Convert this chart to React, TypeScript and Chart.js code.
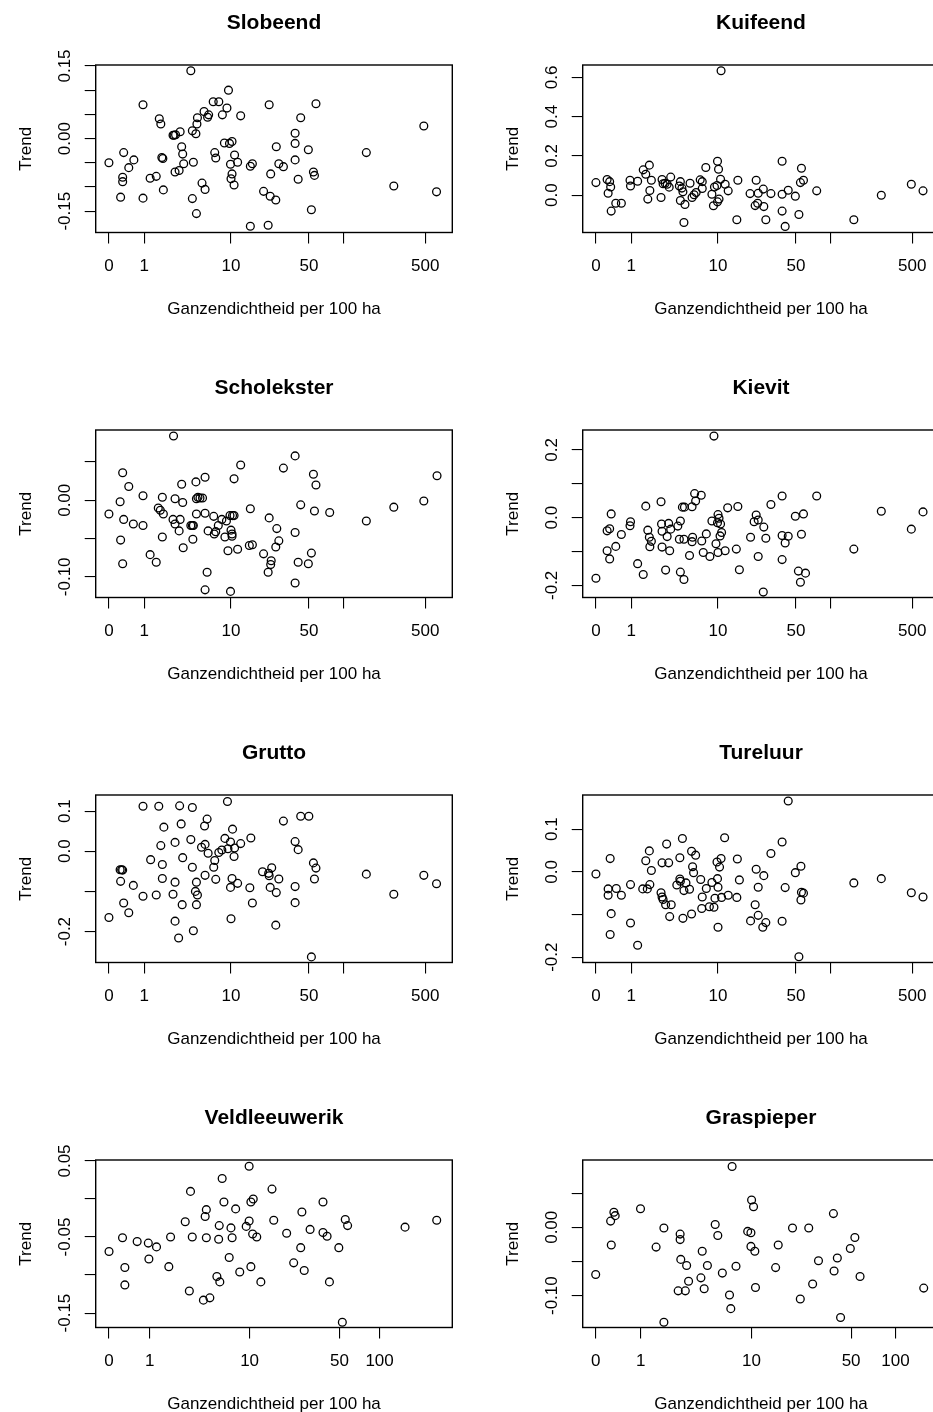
import React, { useEffect, useRef } from "react";
import { Chart, registerables } from "chart.js";

Chart.register(...registerables);

// x = ln(1 + goose density per 100 ha), y = trend
const slobeend: [number, number][] = [[0.00,-0.050],[0.29,-0.029],[0.39,-0.060],[0.49,-0.044],[0.27,-0.080],[0.27,-0.089],[0.23,-0.121],[0.67,0.070],[0.67,-0.123],[0.81,-0.082],[0.93,-0.078],[0.99,0.041],[1.02,0.030],[1.04,-0.039],[1.06,-0.041],[1.07,-0.106],[1.26,0.007],[1.28,0.007],[1.31,0.008],[1.40,0.014],[1.30,-0.069],[1.38,-0.066],[1.43,-0.017],[1.45,-0.032],[1.47,-0.052],[1.61,0.140],[1.64,0.016],[1.71,0.010],[1.73,0.030],[1.74,0.043],[1.66,-0.049],[1.64,-0.124],[1.72,-0.155],[1.83,-0.092],[1.89,-0.105],[1.87,0.056],[1.94,0.044],[1.96,0.049],[2.05,0.076],[2.16,0.076],[2.08,-0.029],[2.10,-0.040],[2.23,0.049],[2.32,0.063],[2.35,0.100],[2.27,-0.009],[2.37,-0.010],[2.42,-0.006],[2.39,-0.053],[2.40,-0.083],[2.42,-0.073],[2.46,-0.096],[2.47,-0.034],[2.53,-0.049],[2.59,0.047],[2.78,-0.057],[2.82,-0.052],[2.78,-0.181],[3.04,-0.109],[3.15,0.070],[3.18,-0.073],[3.17,-0.119],[3.13,-0.179],[3.29,-0.017],[3.34,-0.052],[3.28,-0.127],[3.43,-0.058],[3.66,0.011],[3.66,-0.010],[3.66,-0.044],[3.72,-0.084],[3.77,0.043],[3.92,-0.023],[3.98,-0.147],[4.02,-0.069],[4.04,-0.076],[4.07,0.072],[5.06,-0.029],[5.60,-0.098],[6.19,0.026],[6.44,-0.110]];

const kuifeend: [number, number][] = [[0.00,0.064],[0.22,0.080],[0.24,0.010],[0.27,0.069],[0.29,0.042],[0.30,-0.081],[0.39,-0.041],[0.50,-0.041],[0.67,0.076],[0.68,0.047],[0.82,0.071],[0.93,0.129],[0.98,0.107],[1.05,0.153],[1.06,0.024],[1.02,-0.020],[1.09,0.076],[1.28,-0.012],[1.30,0.080],[1.32,0.058],[1.36,0.061],[1.40,0.056],[1.44,0.041],[1.47,0.092],[1.64,0.047],[1.66,0.069],[1.69,0.036],[1.66,-0.027],[1.71,0.017],[1.73,-0.139],[1.75,-0.047],[1.85,0.061],[1.89,-0.012],[1.93,0.002],[1.97,0.014],[2.05,0.078],[2.09,0.034],[2.09,0.069],[2.16,0.141],[2.28,0.005],[2.31,-0.054],[2.33,0.042],[2.38,0.049],[2.39,0.173],[2.41,0.132],[2.39,-0.034],[2.42,-0.020],[2.45,0.081],[2.46,0.634],[2.54,0.056],[2.60,0.022],[2.77,-0.125],[2.79,0.076],[3.03,0.008],[3.13,-0.053],[3.18,-0.041],[3.19,0.010],[3.15,0.076],[3.29,0.031],[3.30,-0.058],[3.34,-0.125],[3.44,0.008],[3.66,0.173],[3.66,0.005],[3.66,-0.081],[3.72,-0.159],[3.78,0.025],[3.92,-0.005],[3.99,-0.098],[4.02,0.064],[4.04,0.137],[4.08,0.076],[4.34,0.022],[5.07,-0.125],[5.61,0.000],[6.20,0.056],[6.43,0.022]];

const scholekster: [number, number][] = [[0.00,-0.018],[0.22,-0.002],[0.27,0.036],[0.29,-0.025],[0.39,0.018],[0.23,-0.052],[0.27,-0.083],[0.48,-0.031],[0.67,0.006],[0.67,-0.033],[0.81,-0.071],[0.93,-0.081],[0.97,-0.010],[1.01,-0.013],[1.05,0.004],[1.07,-0.018],[1.05,-0.048],[1.26,-0.025],[1.30,0.002],[1.30,-0.031],[1.38,-0.040],[1.40,-0.025],[1.27,0.084],[1.43,0.021],[1.45,-0.003],[1.46,-0.062],[1.61,-0.033],[1.64,-0.033],[1.66,-0.033],[1.65,-0.051],[1.71,0.024],[1.72,0.002],[1.75,0.004],[1.79,0.003],[1.84,0.003],[1.72,-0.018],[1.89,0.030],[1.89,-0.017],[1.93,-0.094],[1.89,-0.117],[1.95,-0.040],[2.06,-0.021],[2.07,-0.044],[2.10,-0.041],[2.15,-0.033],[2.22,-0.025],[2.31,-0.027],[2.28,-0.048],[2.34,-0.066],[2.38,-0.020],[2.40,-0.039],[2.43,-0.020],[2.46,-0.020],[2.42,-0.044],[2.42,-0.047],[2.39,-0.119],[2.46,0.028],[2.53,-0.064],[2.59,0.046],[2.78,-0.011],[2.76,-0.059],[2.82,-0.058],[3.04,-0.070],[3.15,-0.023],[3.19,-0.079],[3.18,-0.084],[3.13,-0.094],[3.30,-0.037],[3.34,-0.053],[3.28,-0.061],[3.43,0.042],[3.66,0.058],[3.66,-0.042],[3.66,-0.108],[3.72,-0.081],[3.77,-0.006],[3.92,-0.083],[3.98,-0.069],[4.02,0.034],[4.07,0.020],[4.04,-0.014],[4.34,-0.016],[5.06,-0.027],[5.60,-0.009],[6.19,-0.001],[6.45,0.032]];

const kievit: [number, number][] = [[0.00,-0.179],[0.22,-0.039],[0.27,-0.033],[0.30,0.011],[0.22,-0.098],[0.27,-0.122],[0.39,-0.085],[0.50,-0.050],[0.68,-0.012],[0.67,-0.024],[0.82,-0.136],[0.93,-0.168],[0.98,0.034],[1.02,-0.037],[1.05,-0.058],[1.09,-0.070],[1.06,-0.086],[1.28,0.047],[1.29,-0.019],[1.30,-0.040],[1.30,-0.087],[1.37,-0.155],[1.40,-0.056],[1.43,-0.017],[1.47,-0.034],[1.45,-0.098],[1.61,-0.025],[1.66,-0.010],[1.64,-0.064],[1.66,-0.161],[1.73,-0.183],[1.70,0.031],[1.74,0.031],[1.73,-0.064],[1.84,-0.112],[1.89,0.032],[1.94,0.071],[1.96,0.049],[1.90,-0.058],[1.89,-0.071],[2.07,0.066],[2.08,-0.069],[2.11,-0.103],[2.17,-0.048],[2.24,-0.115],[2.28,-0.010],[2.36,-0.077],[2.32,0.241],[2.40,0.009],[2.39,-0.015],[2.42,-0.002],[2.45,-0.019],[2.44,-0.054],[2.47,-0.044],[2.40,-0.103],[2.54,-0.098],[2.59,0.029],[2.76,-0.093],[2.79,0.033],[2.82,-0.154],[3.04,-0.058],[3.11,-0.012],[3.15,0.008],[3.19,-0.007],[3.19,-0.115],[3.30,-0.028],[3.34,-0.061],[3.29,-0.220],[3.44,0.039],[3.66,0.064],[3.66,-0.053],[3.72,-0.075],[3.78,-0.055],[3.66,-0.124],[3.92,0.004],[4.08,0.011],[4.04,-0.049],[3.98,-0.158],[4.12,-0.164],[4.02,-0.191],[4.34,0.064],[5.07,-0.093],[5.61,0.019],[6.20,-0.034],[6.43,0.017]];

const grutto: [number, number][] = [[0.00,-0.165],[0.22,-0.046],[0.25,-0.046],[0.27,-0.047],[0.23,-0.075],[0.29,-0.129],[0.39,-0.153],[0.48,-0.085],[0.67,0.112],[0.67,-0.112],[0.82,-0.021],[0.93,-0.109],[0.98,0.112],[1.02,0.014],[1.05,-0.033],[1.08,0.060],[1.05,-0.068],[1.30,0.022],[1.30,-0.077],[1.26,-0.107],[1.30,-0.174],[1.37,-0.216],[1.39,0.113],[1.42,0.068],[1.45,-0.016],[1.44,-0.133],[1.61,0.029],[1.64,-0.040],[1.64,0.109],[1.66,-0.198],[1.72,-0.077],[1.70,-0.100],[1.74,-0.109],[1.72,-0.133],[1.82,0.010],[1.89,0.017],[1.88,0.063],[1.93,0.080],[1.89,-0.060],[1.95,-0.005],[2.06,-0.040],[2.08,-0.023],[2.10,-0.070],[2.16,-0.003],[2.22,0.003],[2.28,0.032],[2.33,0.124],[2.34,0.006],[2.39,0.023],[2.43,0.055],[2.47,0.008],[2.46,-0.013],[2.42,-0.068],[2.39,-0.090],[2.40,-0.168],[2.53,-0.080],[2.59,0.019],[2.79,0.033],[2.77,-0.091],[2.82,-0.129],[3.02,-0.051],[3.14,-0.055],[3.15,-0.061],[3.20,-0.041],[3.17,-0.090],[3.34,-0.069],[3.29,-0.103],[3.28,-0.184],[3.43,0.075],[3.66,0.024],[3.72,0.004],[3.66,-0.088],[3.66,-0.128],[3.77,0.087],[3.93,0.087],[4.02,-0.029],[4.07,-0.042],[4.04,-0.069],[3.98,-0.263],[5.06,-0.057],[5.60,-0.107],[6.19,-0.060],[6.44,-0.081]];

const tureluur: [number, number][] = [[0.00,-0.005],[0.24,-0.040],[0.24,-0.055],[0.28,0.031],[0.30,-0.098],[0.28,-0.147],[0.40,-0.039],[0.50,-0.055],[0.68,-0.030],[0.68,-0.120],[0.82,-0.172],[0.92,-0.040],[0.98,0.026],[1.01,-0.040],[1.05,0.049],[1.06,-0.030],[1.09,0.003],[1.28,-0.049],[1.30,-0.059],[1.32,-0.065],[1.37,-0.077],[1.30,0.021],[1.39,0.065],[1.43,0.021],[1.45,-0.105],[1.48,-0.077],[1.59,-0.031],[1.65,0.033],[1.65,-0.017],[1.66,-0.022],[1.70,0.078],[1.71,-0.109],[1.73,-0.044],[1.77,-0.026],[1.84,-0.041],[1.88,0.048],[1.90,0.012],[1.92,-0.002],[1.96,0.039],[1.88,-0.099],[2.06,-0.018],[2.09,-0.059],[2.08,-0.086],[2.17,-0.039],[2.23,-0.082],[2.28,-0.025],[2.32,-0.083],[2.34,-0.062],[2.40,-0.036],[2.39,-0.016],[2.38,0.023],[2.43,0.011],[2.46,0.031],[2.47,-0.060],[2.40,-0.130],[2.53,0.080],[2.60,-0.055],[2.78,0.030],[2.77,-0.060],[2.82,-0.019],[3.04,-0.115],[3.13,-0.077],[3.19,-0.102],[3.28,-0.130],[3.34,-0.119],[3.15,0.006],[3.19,-0.036],[3.30,-0.009],[3.44,0.043],[3.66,0.070],[3.66,-0.116],[3.72,-0.037],[3.78,0.166],[3.92,-0.002],[4.03,0.013],[4.04,-0.048],[4.08,-0.050],[4.03,-0.066],[3.99,-0.199],[5.07,-0.026],[5.61,-0.016],[6.20,-0.049],[6.43,-0.059]];

const veldleeuwerik: [number, number][] = [[0.00,-0.069],[0.23,-0.051],[0.27,-0.090],[0.27,-0.113],[0.48,-0.056],[0.67,-0.058],[0.68,-0.079],[0.81,-0.063],[1.02,-0.089],[1.05,-0.050],[1.30,-0.030],[1.39,0.010],[1.42,-0.050],[1.37,-0.121],[1.61,-0.133],[1.72,-0.130],[1.64,-0.023],[1.66,-0.014],[1.66,-0.051],[1.84,-0.102],[1.89,-0.109],[1.88,-0.035],[1.87,-0.053],[1.93,0.027],[1.96,-0.004],[2.05,-0.077],[2.08,-0.038],[2.10,-0.051],[2.16,-0.013],[2.23,-0.096],[2.34,-0.036],[2.39,-0.029],[2.42,-0.004],[2.46,0.000],[2.39,0.043],[2.45,-0.046],[2.42,-0.089],[2.52,-0.050],[2.59,-0.109],[2.78,0.013],[2.81,-0.028],[3.03,-0.045],[3.15,-0.084],[3.27,-0.064],[3.29,-0.017],[3.33,-0.094],[3.43,-0.040],[3.65,-0.004],[3.65,-0.044],[3.72,-0.049],[3.76,-0.109],[3.92,-0.064],[4.03,-0.027],[4.07,-0.035],[3.98,-0.162],[5.05,-0.037],[5.59,-0.028]];

const graspieper: [number, number][] = [[0.00,-0.069],[0.23,0.009],[0.28,0.022],[0.30,0.017],[0.24,-0.026],[0.69,0.027],[0.93,-0.029],[1.05,-0.001],[1.05,-0.139],[1.30,-0.010],[1.30,-0.018],[1.31,-0.047],[1.40,-0.056],[1.27,-0.093],[1.38,-0.093],[1.43,-0.079],[1.64,-0.035],[1.62,-0.074],[1.67,-0.090],[1.72,-0.056],[1.84,0.004],[1.88,-0.012],[1.95,-0.067],[2.06,-0.099],[2.08,-0.119],[2.10,0.089],[2.16,-0.057],[2.34,-0.006],[2.39,-0.008],[2.40,0.040],[2.43,0.030],[2.39,-0.028],[2.45,-0.035],[2.46,-0.088],[2.77,-0.059],[2.81,-0.026],[3.03,-0.001],[3.15,-0.105],[3.28,-0.001],[3.34,-0.083],[3.43,-0.049],[3.66,0.020],[3.67,-0.064],[3.72,-0.045],[3.77,-0.132],[3.92,-0.031],[3.99,-0.015],[4.07,-0.072],[5.05,-0.089]];

// density tick marks (plotted at ln(1 + density))
const densityTicks = [0, 1, 10, 50, 100, 500];
const densityLabels = ["0", "1", "10", "50", "", "500"];
const densityTicksLow = [0, 1, 10, 50, 100];
const densityLabelsLow = ["0", "1", "10", "50", "100"];

const slobeendYTicks = [-0.15, -0.1, -0.05, 0, 0.05, 0.1, 0.15];
const slobeendYLabels = ["-0.15", "", "", "0.00", "", "", "0.15"];
const kuifeendYTicks = [0, 0.2, 0.4, 0.6];
const kuifeendYLabels = ["0.0", "0.2", "0.4", "0.6"];
const scholeksterYTicks = [-0.1, -0.05, 0, 0.05];
const scholeksterYLabels = ["-0.10", "", "0.00", ""];
const kievitYTicks = [-0.2, -0.1, 0, 0.1, 0.2];
const kievitYLabels = ["-0.2", "", "0.0", "", "0.2"];
const gruttoYTicks = [-0.2, -0.1, 0, 0.1];
const gruttoYLabels = ["-0.2", "", "0.0", "0.1"];
const tureluurYTicks = [-0.2, -0.1, 0, 0.1];
const tureluurYLabels = ["-0.2", "", "0.0", "0.1"];
const veldleeuwerikYTicks = [-0.15, -0.1, -0.05, 0, 0.05];
const veldleeuwerikYLabels = ["-0.15", "", "-0.05", "", "0.05"];
const graspieperYTicks = [-0.1, -0.05, 0, 0.05];
const graspieperYLabels = ["-0.10", "", "0.00", ""];

type PanelDef = {
  title: string;
  points: [number, number][];
  xTicks: number[];
  xLabels: string[];
  xRange: [number, number];
  yTicks: number[];
  yLabels: string[];
  yRange: [number, number];
};

const panels: PanelDef[] = [
  { title: "Slobeend", points: slobeend, xTicks: densityTicks, xLabels: densityLabels, xRange: [-0.26, 6.75], yTicks: slobeendYTicks, yLabels: slobeendYLabels, yRange: [-0.194, 0.152] },
  { title: "Kuifeend", points: kuifeend, xTicks: densityTicks, xLabels: densityLabels, xRange: [-0.26, 6.75], yTicks: kuifeendYTicks, yLabels: kuifeendYLabels, yRange: [-0.19, 0.663] },
  { title: "Scholekster", points: scholekster, xTicks: densityTicks, xLabels: densityLabels, xRange: [-0.26, 6.75], yTicks: scholeksterYTicks, yLabels: scholeksterYLabels, yRange: [-0.127, 0.0918] },
  { title: "Kievit", points: kievit, xTicks: densityTicks, xLabels: densityLabels, xRange: [-0.26, 6.75], yTicks: kievitYTicks, yLabels: kievitYLabels, yRange: [-0.236, 0.259] },
  { title: "Grutto", points: grutto, xTicks: densityTicks, xLabels: densityLabels, xRange: [-0.26, 6.75], yTicks: gruttoYTicks, yLabels: gruttoYLabels, yRange: [-0.277, 0.14] },
  { title: "Tureluur", points: tureluur, xTicks: densityTicks, xLabels: densityLabels, xRange: [-0.26, 6.75], yTicks: tureluurYTicks, yLabels: tureluurYLabels, yRange: [-0.2125, 0.18] },
  { title: "Veldleeuwerik", points: veldleeuwerik, xTicks: densityTicksLow, xLabels: densityLabelsLow, xRange: [-0.2274, 5.856], yTicks: veldleeuwerikYTicks, yLabels: veldleeuwerikYLabels, yRange: [-0.169, 0.0513] },
  { title: "Graspieper", points: graspieper, xTicks: densityTicksLow, xLabels: densityLabelsLow, xRange: [-0.2, 5.29], yTicks: graspieperYTicks, yLabels: graspieperYLabels, yRange: [-0.1466, 0.0984] },
];

const FAMILY = "'Liberation Sans', Arial, Helvetica, sans-serif";
const PANEL_W = 487;
const PANEL_H = 365;

const boxPlugin = {
  id: "plotBox",
  afterDraw(chart: any) {
    const { ctx, chartArea: a } = chart;
    ctx.save();
    ctx.strokeStyle = "#000";
    ctx.lineWidth = 1.4;
    ctx.strokeRect(a.left, a.top, a.right - a.left, a.bottom - a.top);
    ctx.restore();
  },
};

function Panel({ p, left, top }: { p: PanelDef; left: number; top: number }) {
  const ref = useRef<HTMLCanvasElement>(null);
  useEffect(() => {
    const canvas = ref.current;
    if (!canvas) return;
    const mctx = document.createElement("canvas").getContext("2d")!;
    mctx.font = `17px ${FAMILY}`;
    const widest = Math.max(...p.yLabels.map((l) => mctx.measureText(l).width));
    const yPad = 19.8 - widest / 2;

    const chart = new Chart(canvas, {
      type: "scatter",
      data: {
        datasets: [
          {
            data: p.points.map(([x, y]) => ({ x, y })),
            pointStyle: "circle",
            pointRadius: 3.9,
            pointHoverRadius: 3.9,
            pointBorderWidth: 1.3,
            pointBorderColor: "#000",
            pointBackgroundColor: "rgba(0,0,0,0)",
            borderColor: "#000",
            backgroundColor: "rgba(0,0,0,0)",
            showLine: false,
            clip: false as any,
          },
        ],
      },
      options: {
        animation: false,
        responsive: false,
        devicePixelRatio: 1,
        events: [],
        layout: { padding: { left: 0, right: 34.7, top: 0, bottom: 0 } },
        plugins: {
          legend: { display: false },
          tooltip: { enabled: false },
          title: {
            display: true,
            text: p.title,
            fullSize: false,
            color: "#000",
            font: { family: FAMILY, size: 21, weight: "bold" },
            padding: { top: 10.6, bottom: 29.2 },
          },
        },
        scales: {
          x: {
            type: "linear",
            position: "bottom",
            min: p.xRange[0],
            max: p.xRange[1],
            bounds: "data",
            afterBuildTicks: (s: any) => {
              s.ticks = p.xTicks.map((d) => ({ value: Math.log1p(d) }));
            },
            afterFit: (s: any) => {
              s.height = 132.5;
            },
            ticks: {
              autoSkip: false,
              minRotation: 0,
              maxRotation: 0,
              padding: 12.8,
              color: "#000",
              font: { family: FAMILY, size: 17 },
              callback: (_v: any, i: number) => p.xLabels[i] ?? "",
            },
            grid: { drawOnChartArea: false, drawTicks: true, tickLength: 11, color: "#000", lineWidth: 1.1 },
            border: { display: false },
            title: {
              display: true,
              text: "Ganzendichtheid per 100 ha",
              color: "#000",
              font: { family: FAMILY, size: 17 },
              padding: { top: 0, bottom: 45.6 },
            },
          },
          y: {
            type: "linear",
            position: "left",
            min: p.yRange[0],
            max: p.yRange[1],
            bounds: "data",
            afterBuildTicks: (s: any) => {
              s.ticks = p.yTicks.map((v) => ({ value: v }));
            },
            afterFit: (s: any) => {
              s.width = 95.7;
            },
            ticks: {
              autoSkip: false,
              minRotation: 90,
              maxRotation: 90,
              crossAlign: "center",
              padding: yPad,
              color: "#000",
              font: { family: FAMILY, size: 17 },
              callback: (_v: any, i: number) => p.yLabels[i] ?? "",
            },
            grid: { drawOnChartArea: false, drawTicks: true, tickLength: 11, color: "#000", lineWidth: 1.1 },
            border: { display: false },
            title: {
              display: true,
              text: "Trend",
              color: "#000",
              font: { family: FAMILY, size: 17 },
              padding: { top: 16.5, bottom: 0 },
            },
          },
        },
      } as any,
      plugins: [boxPlugin],
    });
    return () => chart.destroy();
  }, [p]);

  return (
    <canvas
      ref={ref}
      width={PANEL_W}
      height={PANEL_H}
      style={{ position: "absolute", left, top, width: PANEL_W, height: PANEL_H }}
    />
  );
}

export default function App() {
  useEffect(() => {
    document.body.style.margin = "0";
    document.body.style.overflow = "hidden";
  }, []);
  return (
    <div
      style={{
        position: "fixed",
        left: 0,
        top: 0,
        width: 933,
        height: 1412,
        overflow: "hidden",
        background: "#fff",
      }}
    >
      {panels.map((p, i) => (
        <Panel key={p.title} p={p} left={(i % 2) * PANEL_W} top={Math.floor(i / 2) * PANEL_H} />
      ))}
    </div>
  );
}
